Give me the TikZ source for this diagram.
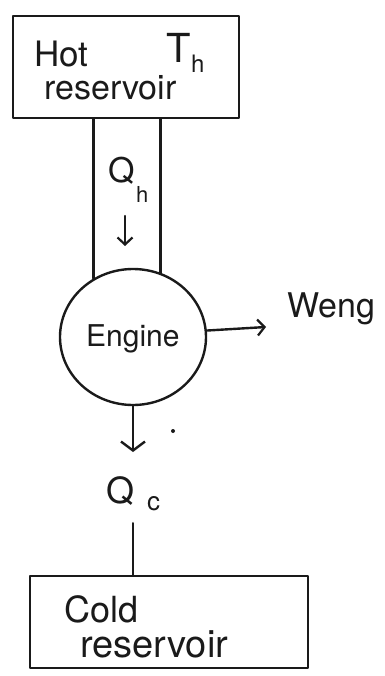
\documentclass[tikz,border=0pt]{standalone}
\usepackage{fontspec}
\setmainfont{TeX Gyre Heros}
\usetikzlibrary{arrows.meta,shapes.geometric}
\definecolor{ink}{HTML}{1A1A1A}
\tikzset{
  ink/.style={draw=ink,line width=2.4pt,line cap=round,line join=round},
  boxshape/.style={ink,rectangle,inner sep=0pt},
  lbl/.style={text=ink,inner sep=0pt,anchor=base west},
  big/.style={lbl,font=\fontsize{36}{38}\selectfont},
  mid/.style={lbl,font=\fontsize{30}{32}\selectfont},
  small/.style={lbl,font=\fontsize{22}{24}\selectfont},
  barb/.style={-{Straight Barb[length=9pt,width=24pt,line width=2.4pt]}},
}
\begin{document}
\begin{tikzpicture}[x=1pt,y=-1pt]
\useasboundingbox (0,0) rectangle (384,676);
% hot reservoir
\node[boxshape,minimum width=226pt,minimum height=102pt] (hot) at (126,67) {};
\node[lbl,font=\fontsize{35}{37}\selectfont] (hotA) at (34,67) {Hot};
\node[lbl,font=\fontsize{34}{36}\selectfont] (hotB) at (44,100) {reservoir};
\node[lbl,font=\fontsize{40}{42}\selectfont] (th) at (166,63) {T};
\node[lbl,font=\fontsize{24}{26}\selectfont] (thsub) at (191,73) {h};
% engine
\node[ink,ellipse,minimum width=146pt,minimum height=136pt,inner sep=0pt] (engine) at (133,337) {};
\node[mid] (engtxt) at (86,346) {Engine};
% channels
\draw[ink] (engine.124 |- hot.south) -- (engine.124);
\draw[ink] (engine.67 |- hot.south) -- (engine.67);
\node[lbl,font=\fontsize{34}{36}\selectfont] (qh) at (108,183) {Q};
\node[small] (qhsub) at (136,202) {h};
\coordinate (qa1) at (125,216);
\coordinate (qa2) at (125,246);
\draw[ink,-{Straight Barb[length=7pt,width=15pt,line width=2.2pt]}] (qa1) -- (qa2);
% work
\coordinate (wend) at (266,327);
\draw[ink,-{Straight Barb[length=7pt,width=16pt,line width=2.2pt]}] (engine.5) -- (wend);
\node[lbl,font=\fontsize{34}{36}\selectfont] (weng) at (287,317) {Weng};
% cold side
\coordinate (qcarrow) at (engine.south |- 0,452);
\draw[ink,barb] (engine.south) -- (qcarrow);
\node[circle,fill=ink,inner sep=0pt,minimum size=4pt] (dot) at (173,431) {};
\node[lbl,font=\fontsize{36}{38}\selectfont] (qc) at (106,503) {Q};
\node[lbl,font=\fontsize{26}{28}\selectfont] (qcsub) at (147,510) {c};
\node[boxshape,minimum width=278pt,minimum height=92pt] (cold) at (169,622) {};
\draw[ink] (qc.south -| engine.south) ++(0,18) coordinate (qcl) -- (qcl |- cold.north);
\node[big] (coldA) at (64,622) {Cold};
\node[lbl,font=\fontsize{38}{40}\selectfont] (coldB) at (80,657) {reservoir};
\end{tikzpicture}
\end{document}
